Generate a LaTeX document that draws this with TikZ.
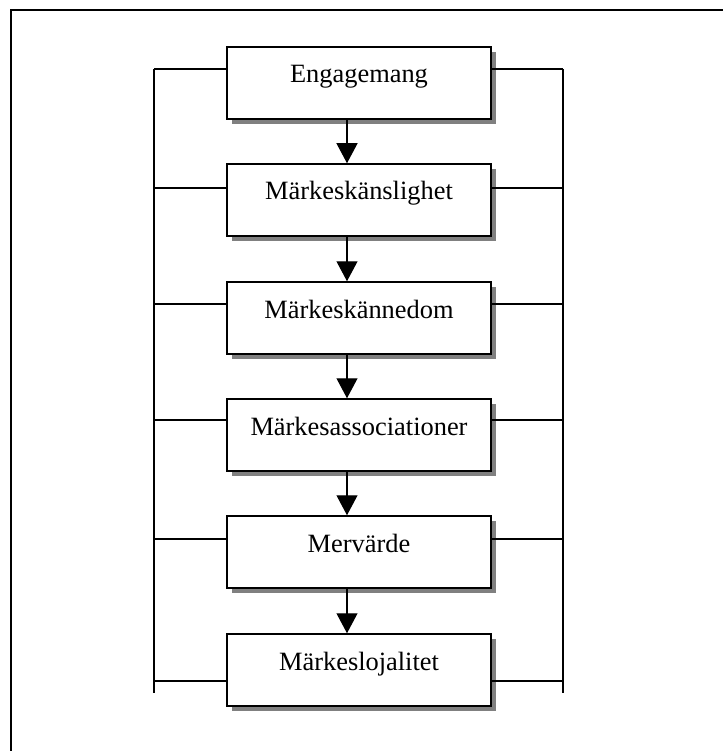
\documentclass[tikz,border=0pt]{standalone}
\usepackage{fontspec}
\setmainfont{Liberation Serif}
\usetikzlibrary{arrows.meta,shadows}

\definecolor{shadowgray}{HTML}{808080}
\tikzset{
  stage/.style={draw=black, line width=1.5pt, fill=white, rectangle,
    minimum width=264pt, minimum height=72pt, inner sep=0pt,
    text height=10pt, text depth=10pt,
    font=\fontsize{26.4pt}{30pt}\selectfont,
    drop shadow={shadow xshift=5pt, shadow yshift=-5pt, fill=shadowgray, opacity=1}},
  link/.style={line width=1.2pt},
  flow/.style={line width=1.2pt, -{Triangle[width=21pt,length=20pt]}},
  frameline/.style={line width=2pt}
}

\begin{document}
\begin{tikzpicture}[x=1pt, y=-1pt]
  \useasboundingbox (0,0) rectangle (723,751);

  % outer frame (top and left edges)
  \coordinate (fbl) at (10.5,751);
  \coordinate (ftl) at (10.5,10.5);
  \coordinate (ftr) at (723,10.5);
  \draw[frameline] (fbl) -- (ftl) -- (ftr);

  % stages of the chain
  \node[stage] (s1) at (359,83)  {Engagemang};
  \node[stage] (s2) at (359,200) {Märkeskänslighet};
  \node[stage] (s3) at (359,318) {Märkeskännedom};
  \node[stage] (s4) at (359,435) {Märkesassociationer};
  \node[stage] (s5) at (359,552) {Mervärde};
  \node[stage] (s6) at (359,670) {Märkeslojalitet};

  % side rails
  \coordinate (lt) at (154,69);  \coordinate (lb) at (154,693);
  \coordinate (rt) at (563,69);  \coordinate (rb) at (563,693);
  \draw[link] (lt) -- (lb);
  \draw[link] (rt) -- (rb);

  % branches from the rails to each stage
  \foreach \n/\y in {s1/69, s2/188, s3/304, s4/420, s5/539, s6/681} {
    \coordinate (l\n) at (154,\y);
    \coordinate (r\n) at (563,\y);
    \draw[link] (l\n) -- (\n.west |- l\n);
    \draw[link] (\n.east |- r\n) -- (r\n);
  }

  % arrows between consecutive stages
  \foreach \a/\b in {s1/s2, s2/s3, s3/s4, s4/s5, s5/s6} {
    \draw[flow] ([xshift=-12pt]\a.south) -- ([xshift=-12pt]\b.north);
  }
\end{tikzpicture}
\end{document}
